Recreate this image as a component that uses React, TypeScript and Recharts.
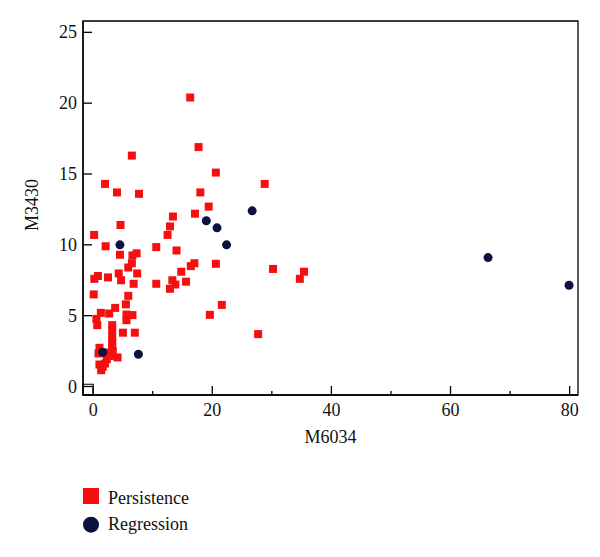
import { ReferenceArea, Scatter, ScatterChart, XAxis, YAxis, Label } from "recharts";

// [M6034, M3430]
const persistencePoints: [number, number][] = [
  [16.3, 20.4], [17.7, 16.9], [6.5, 16.3], [2.0, 14.3], [4.0, 13.7], [7.7, 13.6],
  [18.0, 13.7], [13.4, 12.0], [17.1, 12.2], [20.6, 15.1], [28.8, 14.3], [19.4, 12.7],
  [17.0, 8.7], [16.4, 8.5], [20.6, 8.66], [14.8, 8.1], [15.6, 7.4], [30.2, 8.3],
  [35.4, 8.1], [34.7, 7.6], [21.6, 5.76], [19.6, 5.06], [27.7, 3.7], [12.9, 11.3],
  [12.5, 10.7], [4.6, 11.4], [0.17, 10.7], [2.1, 9.9], [10.6, 9.84], [14.0, 9.6],
  [7.3, 9.4], [6.6, 9.25], [4.5, 9.3], [6.5, 8.7], [5.9, 8.4], [7.4, 7.98],
  [4.3, 7.98], [0.8, 7.8], [0.2, 7.6], [2.5, 7.7], [4.7, 7.5], [6.8, 7.25],
  [10.6, 7.25], [13.3, 7.5], [13.8, 7.2], [12.9, 6.9], [0.1, 6.5], [5.9, 6.4],
  [5.5, 5.8], [3.7, 5.55], [1.3, 5.2], [2.7, 5.15], [5.6, 5.08], [6.6, 5.04],
  [0.55, 4.77], [5.6, 4.68], [0.7, 4.33], [3.2, 4.33], [3.2, 3.98], [3.2, 3.5],
  [5.0, 3.8], [7.0, 3.8], [3.2, 3.15], [3.2, 2.8], [1.06, 2.73], [0.9, 2.33],
  [2.5, 2.4], [3.0, 2.3], [2.8, 2.15], [3.3, 2.5], [4.1, 2.05], [1.06, 1.55],
  [2.0, 1.62], [1.6, 1.38], [1.35, 1.15], [2.3, 1.93]
];

const regressionPoints: [number, number][] = [
  [4.5, 10.0], [1.6, 2.42], [7.6, 2.28], [19.0, 11.7], [20.8, 11.2],
  [22.4, 10.0], [26.7, 12.4], [66.3, 9.1], [79.9, 7.15]
];

const xTicks = [0, 10, 20, 30, 40, 50, 60, 70, 80];
const xLabelled = [0, 20, 40, 60, 80];
const yTicks = [0, 5, 10, 15, 20, 25];
const xDomain: [number, number] = [-1.7, 81.4];
const yDomain: [number, number] = [-0.6, 25.8];

const FONT = "'Liberation Serif', 'DejaVu Serif', serif";
const RED = "#f50f0f";
const NAVY = "#0c1142";

const toRows = (pts: [number, number][]) => pts.map(([x, y]) => ({ x, y }));

function XTick(props: any) {
  const { x, y, payload } = props;
  const major = xLabelled.includes(payload.value);
  return (
    <g>
      <line x1={x} x2={x} y1={y} y2={y - (major ? 9 : 4)} stroke="#000" strokeWidth={1.3} />
      {major && (
        <text x={x} y={y + 21} textAnchor="middle" fontSize={18} fontFamily={FONT} fill="#111">
          {payload.value}
        </text>
      )}
    </g>
  );
}

function YTick(props: any) {
  const { x, y, payload } = props;
  return (
    <g>
      <line x1={x} x2={x + 9} y1={y} y2={y} stroke="#000" strokeWidth={1.3} />
      <text x={x - 6} y={y} textAnchor="end" dominantBaseline="central" fontSize={18} fontFamily={FONT} fill="#111">
        {payload.value}
      </text>
    </g>
  );
}

function YTitle(props: any) {
  const { viewBox } = props;
  const cx = viewBox.x + 32;
  const cy = viewBox.y + viewBox.height / 2 - 3;
  return (
    <text
      x={cx}
      y={cy}
      transform={`rotate(-90 ${cx} ${cy})`}
      textAnchor="middle"
      dominantBaseline="central"
      fontSize={18}
      fontFamily={FONT}
      fill="#111"
    >
      M3430
    </text>
  );
}

const square = (p: any) => <rect x={p.cx - 4} y={p.cy - 4} width={8} height={8} fill={RED} />;
const dot = (p: any) => <circle cx={p.cx} cy={p.cy} r={4.5} fill={NAVY} />;

export default function App() {
  return (
    <div style={{ position: "absolute", left: 0, top: 0, width: 600, height: 557, background: "#fff" }}>
      <ScatterChart width={600} height={460} margin={{ top: 21, right: 22, left: 0, bottom: 5 }}>
        <XAxis
          type="number"
          dataKey="x"
          domain={xDomain}
          allowDataOverflow
          ticks={xTicks}
          interval={0}
          tickSize={0}
          tickMargin={0}
          tickLine={false}
          tick={<XTick />}
          height={60}
          axisLine={{ stroke: "#000", strokeWidth: 1.3 }}
        >
          <Label value="M6034" position="insideBottom" offset={12} fontSize={18} fontFamily={FONT} fill="#111" />
        </XAxis>
        <YAxis
          type="number"
          dataKey="y"
          domain={yDomain}
          allowDataOverflow
          ticks={yTicks}
          interval={0}
          tickSize={0}
          tickMargin={0}
          tickLine={false}
          tick={<YTick />}
          width={83}
          axisLine={{ stroke: "#000", strokeWidth: 1.3 }}
        >
          <Label content={<YTitle />} />
        </YAxis>
        <ReferenceArea
          x1={xDomain[0]}
          x2={xDomain[1]}
          y1={yDomain[0]}
          y2={yDomain[1]}
          fill="none"
          fillOpacity={0}
          stroke="#000"
          strokeWidth={1.3}
        />
        <ReferenceArea x1={xDomain[0]} x2={0} y1={yDomain[0]} y2={0.16} fill="none" fillOpacity={0} stroke="#000" strokeWidth={1.2} />
        <Scatter name="Persistence" data={toRows(persistencePoints)} shape={square} isAnimationActive={false} />
        <Scatter name="Regression" data={toRows(regressionPoints)} shape={dot} isAnimationActive={false} />
      </ScatterChart>
      <svg style={{ position: "absolute", left: 83, top: 480 }} width={200} height={60}>
        <rect x={0} y={8} width={16} height={16} fill={RED} />
        <text x={25} y={24} fontSize={18} fontFamily={FONT} fill="#111">Persistence</text>
        <circle cx={8} cy={44.7} r={8} fill={NAVY} />
        <text x={25} y={50} fontSize={18} fontFamily={FONT} fill="#111">Regression</text>
      </svg>
    </div>
  );
}
